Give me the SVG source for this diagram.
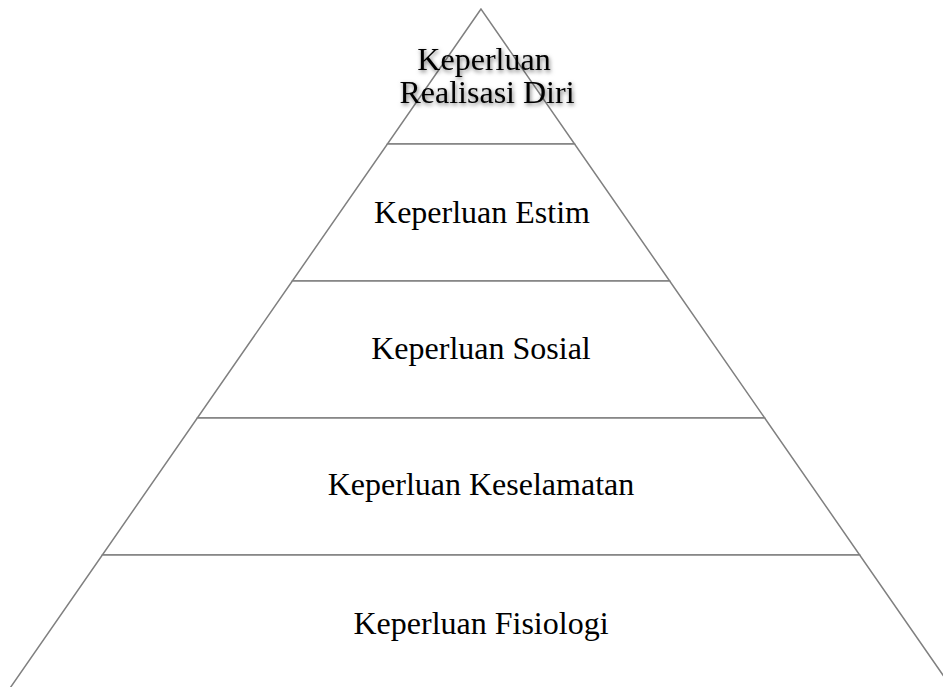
<svg xmlns="http://www.w3.org/2000/svg" width="943" height="687" viewBox="0 0 943 687">
  <defs>
    <filter id="glow" x="-20%" y="-40%" width="140%" height="180%">
      <feDropShadow dx="1" dy="2" stdDeviation="2" flood-color="#000" flood-opacity="0.55"/>
    </filter>
  </defs>
  <style>
    .band { fill: #ffffff; stroke: #808080; stroke-width: 1.5; stroke-linejoin: miter; }
    .lbl { font-family: "Liberation Serif", "Times New Roman", serif; font-size: 32px; fill: #000; text-anchor: middle; }
    .shadow { filter: url(#glow); }
  </style>
  <rect width="943" height="687" fill="#ffffff"/>
  <g id="level-5-realisasi-diri">
    <polygon class="band" points="481,9 387.4,144 574.6,144"/>
    <text class="lbl shadow" x="484" y="70">Keperluan</text>
    <text class="lbl shadow" x="487" y="103">Realisasi Diri</text>
  </g>
  <g id="level-4-estim">
    <polygon class="band" points="387.4,144 574.6,144 669.7,281 292.3,281"/>
    <text class="lbl" x="482" y="223">Keperluan Estim</text>
  </g>
  <g id="level-3-sosial">
    <polygon class="band" points="292.3,281 669.7,281 764.7,418 197.3,418"/>
    <text class="lbl" x="481" y="359">Keperluan Sosial</text>
  </g>
  <g id="level-2-keselamatan">
    <polygon class="band" points="197.3,418 764.7,418 859.7,555 102.3,555"/>
    <text class="lbl" x="481" y="495">Keperluan Keselamatan</text>
  </g>
  <g id="level-1-fisiologi">
    <polygon class="band" points="102.3,555 859.7,555 954.7,692 7.3,692"/>
    <text class="lbl" x="481" y="634">Keperluan Fisiologi</text>
  </g>
  <g id="connectors"></g>
</svg>
